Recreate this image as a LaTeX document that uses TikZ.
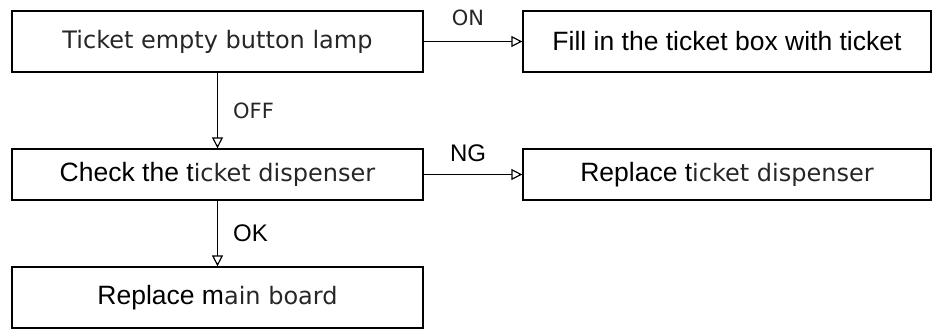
\documentclass[tikz,border=0pt]{standalone}
\usepackage{fontspec}
\setmainfont{Liberation Sans}
\newfontfamily\thinfont{DejaVu Sans}
\usepackage{tikz}
\usetikzlibrary{positioning,arrows.meta}
\newcommand{\lt}[1]{{\thinfont\color{black!85}#1}}
\tikzset{
  stepbox/.style={draw=black,line width=1.3pt,rectangle,
    minimum width=411pt,inner sep=0pt,
    font=\fontsize{26.5}{30}\selectfont,align=center},
  flowarr/.style={line width=1.3pt,draw=black,
    -{Triangle[open,length=11pt,width=11pt,line width=1.2pt]}},
  flowlbl/.style={font=\fontsize{24}{26}\selectfont,inner sep=0pt},
}
\begin{document}
\begin{tikzpicture}[x=1pt,y=-1pt]
  \useasboundingbox (0,0) rectangle (932,329);
  \node[stepbox,minimum height=61pt] (lamp) at (217.5, 41.5) {\lt{\fontsize{24}{28}\selectfont Ticket empty button lamp}};
  \node[stepbox,minimum height=61pt,minimum width=408pt] (fill) at (727, 41.5) {Fill in the ticket box with ticket};
  \node[stepbox,minimum height=51pt] (check) at (217.5,174.5) {Check the t\lt{\fontsize{24}{28}\selectfont icket dispenser}};
  \node[stepbox,minimum height=51pt,minimum width=408pt] (repdisp) at (727,174.5) {Replace t\lt{\fontsize{24}{28}\selectfont icket dispenser}};
  \node[stepbox,minimum height=61pt] (mainbd) at (217.5,297.5) {Replace m\lt{\fontsize{24}{28}\selectfont ain board}};
  \draw[flowarr] (lamp.east) -- node[flowlbl,above=15pt,xshift=-5pt] (lon) {\lt{\fontsize{21}{24}\selectfont ON}} (fill.west);
  \draw[flowarr] (lamp.south) -- node[flowlbl,right=15pt] (loff) {\lt{\fontsize{21}{24}\selectfont OFF}} (check.north);
  \draw[flowarr] (check.east) -- node[flowlbl,above=12pt,xshift=-5pt] (lng) {NG} (repdisp.west);
  \draw[flowarr] (check.south) -- node[flowlbl,right=15pt] (lok) {OK} (mainbd.north);
\end{tikzpicture}
\end{document}
